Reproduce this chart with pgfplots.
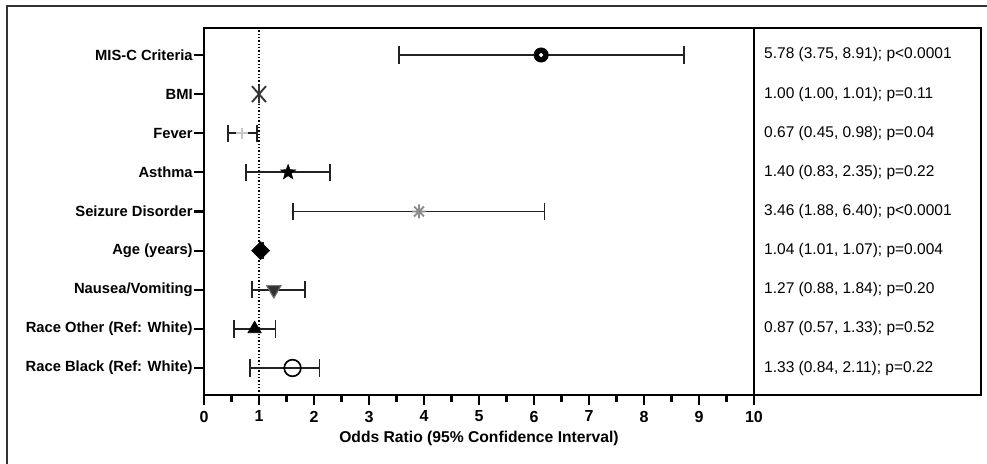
\documentclass[border=0pt]{standalone}
\usepackage{fontspec}
\setmainfont{Liberation Sans}
\usepackage{pgfplots}
\pgfplotsset{compat=1.18}

\definecolor{barc}{HTML}{222222}
\definecolor{framec}{HTML}{333333}

% filled five-point star
\pgfdeclareplotmark{fstar}{%
  \pgfpathmoveto{\pgfqpointpolar{90}{\pgfplotmarksize}}%
  \pgfpathlineto{\pgfqpointpolar{126}{.42\pgfplotmarksize}}%
  \pgfpathlineto{\pgfqpointpolar{162}{\pgfplotmarksize}}%
  \pgfpathlineto{\pgfqpointpolar{198}{.42\pgfplotmarksize}}%
  \pgfpathlineto{\pgfqpointpolar{234}{\pgfplotmarksize}}%
  \pgfpathlineto{\pgfqpointpolar{270}{.42\pgfplotmarksize}}%
  \pgfpathlineto{\pgfqpointpolar{306}{\pgfplotmarksize}}%
  \pgfpathlineto{\pgfqpointpolar{342}{.42\pgfplotmarksize}}%
  \pgfpathlineto{\pgfqpointpolar{18}{\pgfplotmarksize}}%
  \pgfpathlineto{\pgfqpointpolar{54}{.42\pgfplotmarksize}}%
  \pgfpathclose
  \pgfusepathqfillstroke}
% eight-spoke asterisk
\pgfdeclareplotmark{ast8}{%
  \pgfpathmoveto{\pgfqpoint{-\pgfplotmarksize}{0pt}}\pgfpathlineto{\pgfqpoint{\pgfplotmarksize}{0pt}}%
  \pgfpathmoveto{\pgfqpoint{0pt}{-\pgfplotmarksize}}\pgfpathlineto{\pgfqpoint{0pt}{\pgfplotmarksize}}%
  \pgfpathmoveto{\pgfqpoint{-.707\pgfplotmarksize}{-.707\pgfplotmarksize}}\pgfpathlineto{\pgfqpoint{.707\pgfplotmarksize}{.707\pgfplotmarksize}}%
  \pgfpathmoveto{\pgfqpoint{-.707\pgfplotmarksize}{.707\pgfplotmarksize}}\pgfpathlineto{\pgfqpoint{.707\pgfplotmarksize}{-.707\pgfplotmarksize}}%
  \pgfusepathqstroke}
% X with a vertical stroke
\pgfdeclareplotmark{xbar}{%
  \pgfpathmoveto{\pgfqpoint{0pt}{-\pgfplotmarksize}}\pgfpathlineto{\pgfqpoint{0pt}{\pgfplotmarksize}}%
  \pgfpathmoveto{\pgfqpoint{-.75\pgfplotmarksize}{-.85\pgfplotmarksize}}\pgfpathlineto{\pgfqpoint{.75\pgfplotmarksize}{.85\pgfplotmarksize}}%
  \pgfpathmoveto{\pgfqpoint{-.75\pgfplotmarksize}{.85\pgfplotmarksize}}\pgfpathlineto{\pgfqpoint{.75\pgfplotmarksize}{-.85\pgfplotmarksize}}%
  \pgfusepathqstroke}

\pgfplotsset{
  ci/.style={barc, line width=1.1pt, mark=|, mark size=5.2pt, mark options={solid, line width=1.1pt}},
  pt/.style={only marks},
}
\tikzset{rtxt/.style={anchor=west, xshift=2.6pt, font=\fontsize{9.3}{11}\selectfont, text=black}}

\begin{document}
\begin{tikzpicture}
\path[use as bounding box] (0,0) rectangle (592.2pt,278.4pt);
% outer frame (top and left sides visible)
\draw[framec, line width=0.9pt] (4.2pt,0) -- (4.2pt,274.8pt) -- (592.2pt,274.8pt);

\begin{axis}[
  at={(122.4pt,41.4pt)}, anchor=south west,
  width=330pt, height=220.2pt, scale only axis,
  xmin=0, xmax=10, ymin=0.31, ymax=9.69,
  xtick={0,1,...,10}, minor xtick={0.5,1.5,...,9.5},
  ytick={1,...,9},
  yticklabels={Race Black (Ref: White), Race Other (Ref: White), Nausea/Vomiting,
    Age (years), Seizure Disorder, Asthma, Fever, BMI, MIS-C Criteria},
  tick align=outside, xtick pos=bottom, ytick pos=left,
  major tick length=6pt, minor tick length=4pt,
  every tick/.style={black, line width=1.3pt},
  axis line style={line width=1.3pt},
  /pgf/number format/assume math mode=true,
  ticklabel style={font=\bfseries\fontsize{8.85}{10}\selectfont},
  yticklabel style={inner xsep=0.6pt},
  xticklabel style={font=\bfseries\fontsize{9.6}{10}\selectfont},
  xlabel={Odds Ratio (95\% Confidence Interval)},
  xlabel style={font=\bfseries\fontsize{9.4}{11}\selectfont, yshift=1.5pt},
  clip=false,
]
% reference line at OR = 1
\addplot[black, line width=0.8pt, dash pattern=on 0.8pt off 1.2pt] coordinates {(1,0.31) (1,9.69)};

% confidence intervals (lower, upper)
\addplot[ci] coordinates {(3.54,9) (8.72,9)};
\addplot[ci] coordinates {(1.00,8) (1.01,8)};
\addplot[ci] coordinates {(0.44,7) (0.97,7)};
\addplot[ci] coordinates {(0.76,6) (2.29,6)};
\addplot[ci] coordinates {(1.62,5) (6.19,5)};
\addplot[ci] coordinates {(1.01,4) (1.07,4)};
\addplot[ci] coordinates {(0.88,3) (1.83,3)};
\addplot[ci] coordinates {(0.54,2) (1.30,2)};
\addplot[ci] coordinates {(0.84,1) (2.10,1)};

% point estimates
\addplot[pt, mark=*, mark size=4.3pt, mark options={draw=black, fill=black}] coordinates {(6.13,9)};
\addplot[pt, mark=*, mark size=1.1pt, mark options={draw=white, fill=white}] coordinates {(6.13,9)};
\addplot[pt, mark=xbar, mark size=5.6pt, mark options={draw=framec, line width=1.1pt}] coordinates {(1.00,8)};
\addplot[pt, mark=+, mark size=3.4pt, mark options={draw=black!22, line width=1.1pt}] coordinates {(0.69,7)};
\addplot[pt, mark=fstar, mark size=4.8pt, mark options={draw=black, fill=black, line width=0.3pt}] coordinates {(1.53,6)};
\addplot[pt, mark=ast8, mark size=4.2pt, mark options={draw=black!45, line width=1.1pt}] coordinates {(3.91,5)};
\addplot[pt, mark=square*, mark size=3.8pt, mark options={rotate=45, draw=black, fill=black}] coordinates {(1.03,4)};
\addplot[pt, mark=triangle*, mark size=5pt, mark options={rotate=180, draw=black!55, fill=black!80, line width=0.6pt}] coordinates {(1.27,3)};
\addplot[pt, mark=triangle*, mark size=4.6pt, mark options={draw=black, fill=black}] coordinates {(0.92,2)};
\addplot[pt, mark=o, mark size=5pt, mark options={draw=black, fill=white, line width=1pt}] coordinates {(1.61,1)};

% estimates panel
\draw[black, line width=1.1pt] (rel axis cs:1,0) rectangle (rel axis cs:1.4127,1);
\node[rtxt] at (axis cs:10,9) {5.78 (3.75, 8.91); p<0.0001};
\node[rtxt] at (axis cs:10,8) {1.00 (1.00, 1.01); p=0.11};
\node[rtxt] at (axis cs:10,7) {0.67 (0.45, 0.98); p=0.04};
\node[rtxt] at (axis cs:10,6) {1.40 (0.83, 2.35); p=0.22};
\node[rtxt] at (axis cs:10,5) {3.46 (1.88, 6.40); p<0.0001};
\node[rtxt] at (axis cs:10,4) {1.04 (1.01, 1.07); p=0.004};
\node[rtxt] at (axis cs:10,3) {1.27 (0.88, 1.84); p=0.20};
\node[rtxt] at (axis cs:10,2) {0.87 (0.57, 1.33); p=0.52};
\node[rtxt] at (axis cs:10,1) {1.33 (0.84, 2.11); p=0.22};
\end{axis}
\end{tikzpicture}
\end{document}
